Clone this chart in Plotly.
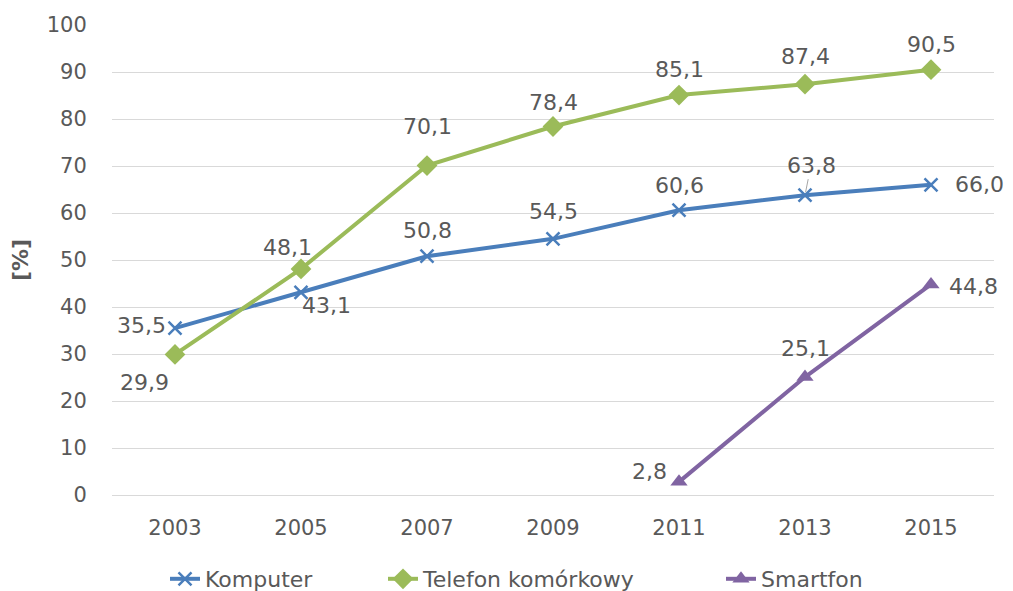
import plotly.graph_objects as go

years = ["2003", "2005", "2007", "2009", "2011", "2013", "2015"]
komputer = [35.5, 43.1, 50.8, 54.5, 60.6, 63.8, 66.0]
telefon = [29.9, 48.1, 70.1, 78.4, 85.1, 87.4, 90.5]
smart_years = ["2011", "2013", "2015"]
smartfon = [2.8, 25.1, 44.8]

y_ticks = [0, 10, 20, 30, 40, 50, 60, 70, 80, 90, 100]

BLUE = "#4a7ebb"
GREEN = "#9bbb59"
PURPLE = "#8064a2"
TEXT = "#595959"
FONT = "DejaVu Sans"
W, H = 1013, 591


def fmt(v):
    return f"{v:.1f}".replace(".", ",")


fig = go.Figure()
fig.add_trace(go.Scatter(
    x=years, y=komputer, name="Komputer", mode="lines+markers", legend="legend",
    line=dict(color=BLUE, width=4),
    marker=dict(symbol="x-thin", size=13, line=dict(color=BLUE, width=2.5), color=BLUE),
))
fig.add_trace(go.Scatter(
    x=years, y=telefon, name="Telefon komórkowy", mode="lines+markers", legend="legend2",
    line=dict(color=GREEN, width=4),
    marker=dict(symbol="diamond", size=16, color=GREEN),
))
fig.add_trace(go.Scatter(
    x=smart_years, y=smartfon, name="Smartfon", mode="lines+markers", legend="legend3",
    line=dict(color=PURPLE, width=4),
    marker=dict(symbol="triangle-up", size=15, color=PURPLE),
))

# label offsets (pixels) for each series' data labels
komp_shift = [(-34, 3), (25, -13), (0, 26), (0, 27), (0, 25), (6, 30), (48, 0)]
tel_shift = [(-31, -28), (-14, 21), (0, 39), (0, 24), (0, 26), (0, 28), (0, 25)]
smart_shift = [(-30, 10), (0, 29), (42, -2)]

annotations = []
for xs, ys, shifts in [(years, komputer, komp_shift),
                       (years, telefon, tel_shift),
                       (smart_years, smartfon, smart_shift)]:
    for x, y, (dx, dy) in zip(xs, ys, shifts):
        # category axis: position annotations by category index
        ann = dict(
            x=years.index(x), y=y, xref="x", yref="y", text=fmt(y), showarrow=False,
            xshift=dx, yshift=dy,
            font=dict(family=FONT, size=22, color=TEXT),
        )
        annotations.append(ann)

# the 63,8 label sits on a short leader line
i = komputer.index(63.8)
annotations[i].update(showarrow=True, arrowhead=0, arrowwidth=1, arrowcolor="#a6a6a6",
                      ax=6, ay=-30, xshift=0, yshift=0, standoff=3)


def legend_at(px_left):
    return dict(
        orientation="h", xref="container", x=px_left / W, xanchor="left",
        yref="container", y=12 / H, yanchor="middle",
        font=dict(family=FONT, size=22, color=TEXT), bgcolor="rgba(0,0,0,0)",
    )


fig.update_layout(
    width=W, height=H,
    margin=dict(l=112, r=19, t=25, b=96),
    paper_bgcolor="white", plot_bgcolor="white",
    font=dict(family=FONT, color=TEXT),
    showlegend=True,
    legend=legend_at(165),
    legend2=legend_at(383),
    legend3=legend_at(721),
    annotations=annotations,
    hovermode=False,
)
fig.update_xaxes(
    type="category", range=[-0.5, 6.5],
    showgrid=False, showline=True, linecolor="#d9d9d9", linewidth=1,
    ticks="outside", ticklen=14, tickcolor="rgba(0,0,0,0)",
    tickfont=dict(family=FONT, size=21, color=TEXT),
)
fig.update_yaxes(
    range=[0, 100], tickvals=y_ticks,
    showgrid=True, gridcolor="#d9d9d9", gridwidth=1, zeroline=False,
    ticks="outside", ticklen=20, tickcolor="rgba(0,0,0,0)",
    tickfont=dict(family=FONT, size=21, color=TEXT),
    title=dict(text="<b>[%]</b>", font=dict(family=FONT, size=22, color=TEXT), standoff=12),
)

fig.write_html("out.html")
